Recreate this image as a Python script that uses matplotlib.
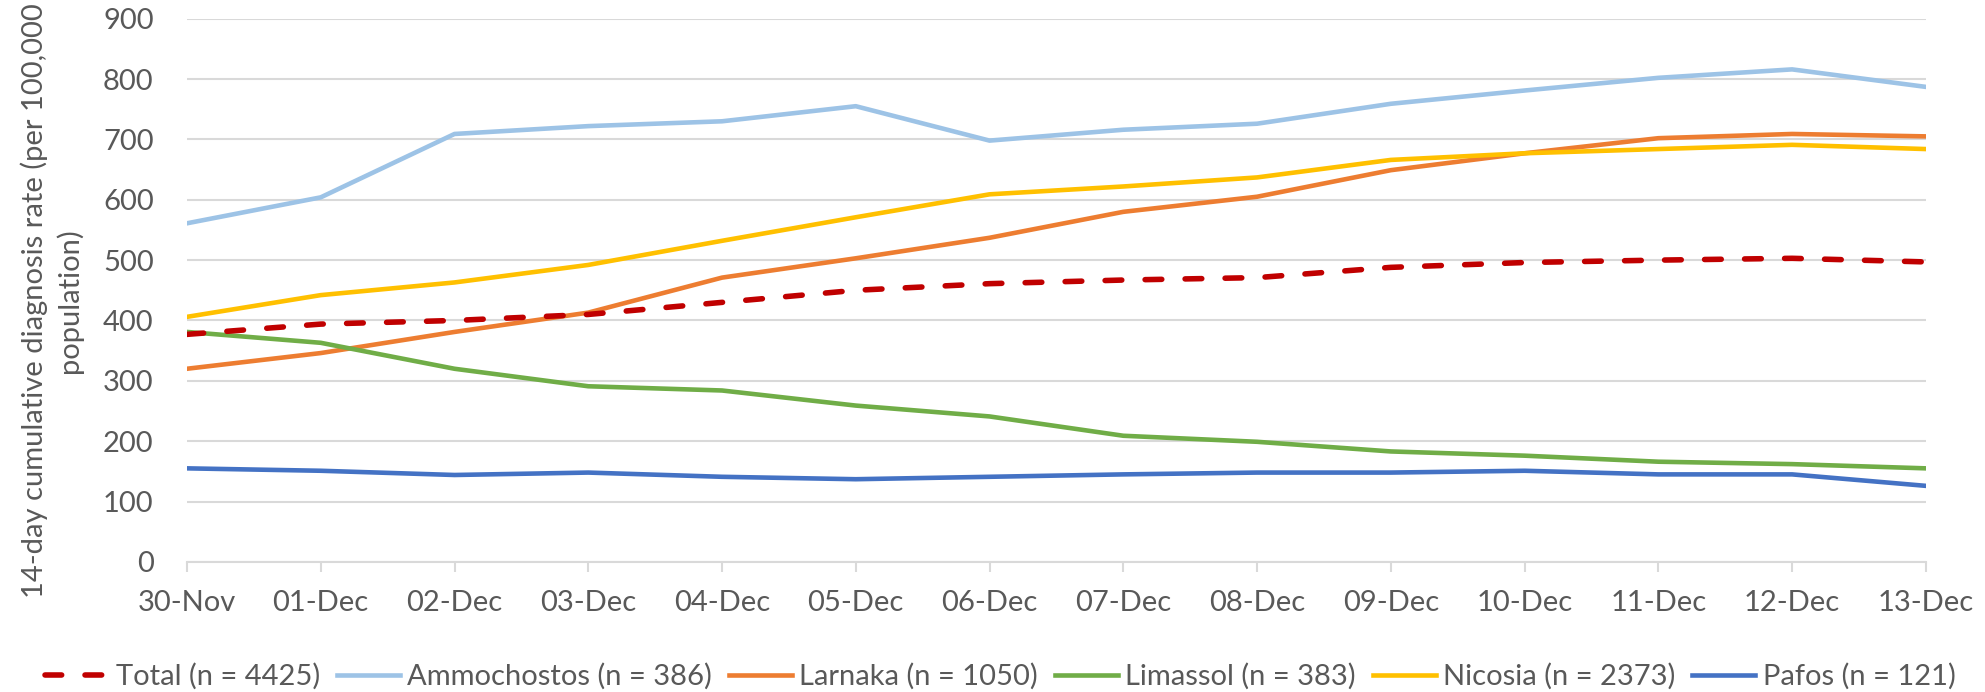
import matplotlib
matplotlib.use('Agg')
import matplotlib.pyplot as plt

plt.rcParams['font.family'] = ['Lato', 'DejaVu Sans']

dates = ['30-Nov', '01-Dec', '02-Dec', '03-Dec', '04-Dec', '05-Dec', '06-Dec',
         '07-Dec', '08-Dec', '09-Dec', '10-Dec', '11-Dec', '12-Dec', '13-Dec']

total = [377, 394, 400, 410, 430, 450, 461, 467, 471, 488, 496, 500, 503, 497]
ammochostos = [561, 604, 709, 722, 730, 755, 698, 716, 726, 759, 781, 802, 816, 787]
larnaka = [320, 346, 381, 413, 471, 503, 537, 580, 605, 649, 677, 702, 709, 705]
limassol = [381, 363, 320, 291, 284, 259, 241, 209, 199, 183, 176, 166, 162, 155]
nicosia = [406, 442, 463, 492, 532, 571, 609, 622, 637, 666, 677, 684, 691, 684]
pafos = [155, 151, 144, 148, 141, 137, 141, 145, 148, 148, 151, 145, 145, 126]

labels = ['Total (n = 4425)', 'Ammochostos (n = 386)', 'Larnaka (n = 1050)',
          'Limassol (n = 383)', 'Nicosia (n = 2373)', 'Pafos (n = 121)']

text_col = '#595959'
grid_col = '#D9D9D9'
fs = 21

fig = plt.figure(figsize=(19.85, 6.92), dpi=100)
ax = fig.add_axes([0.0942, 0.188, 0.876, 0.785])

x = list(range(len(dates)))
ax.plot(x, total, color='#C00000', lw=4.0, dashes=(3.0, 4.2),
        dash_capstyle='round', label=labels[0], zorder=5)
ax.plot(x, ammochostos, color='#9DC3E6', lw=3.3, label=labels[1])
ax.plot(x, larnaka, color='#ED7D31', lw=3.3, label=labels[2])
ax.plot(x, limassol, color='#70AD47', lw=3.3, label=labels[3])
ax.plot(x, nicosia, color='#FFC000', lw=3.3, label=labels[4])
ax.plot(x, pafos, color='#4472C4', lw=3.3, label=labels[5])

ax.set_xlim(0, len(dates) - 1)
ax.set_ylim(0, 900)
ax.set_yticks(range(0, 901, 100))
ax.set_xticks(x)
ax.set_xticklabels(dates)
ax.yaxis.grid(True, color=grid_col, lw=1.5)
ax.set_axisbelow(True)
for s in ['top', 'right', 'left']:
    ax.spines[s].set_visible(False)
ax.spines['bottom'].set_color(grid_col)
ax.spines['bottom'].set_linewidth(1.5)
ax.tick_params(axis='y', length=0, pad=24, labelsize=fs, labelcolor=text_col)
ax.tick_params(axis='x', length=7, width=1.5, color=grid_col, pad=13,
               labelsize=fs, labelcolor=text_col)

# y label placed by hand so the two lines sit like the original
fig.text(0.026, 0.565, '14-day cumulative diagnosis rate (per 100,000\npopulation)',
         rotation=90, ha='center', va='center', fontsize=fs, color=text_col,
         linespacing=1.35, multialignment='center')

fig.legend(loc='center', bbox_to_anchor=(0.504, 0.022), ncol=6, frameon=False,
           fontsize=fs, labelcolor=text_col, handlelength=2.16, handletextpad=0.25,
           columnspacing=0.58, borderpad=0, borderaxespad=0)

fig.savefig('out.png', dpi=100)
